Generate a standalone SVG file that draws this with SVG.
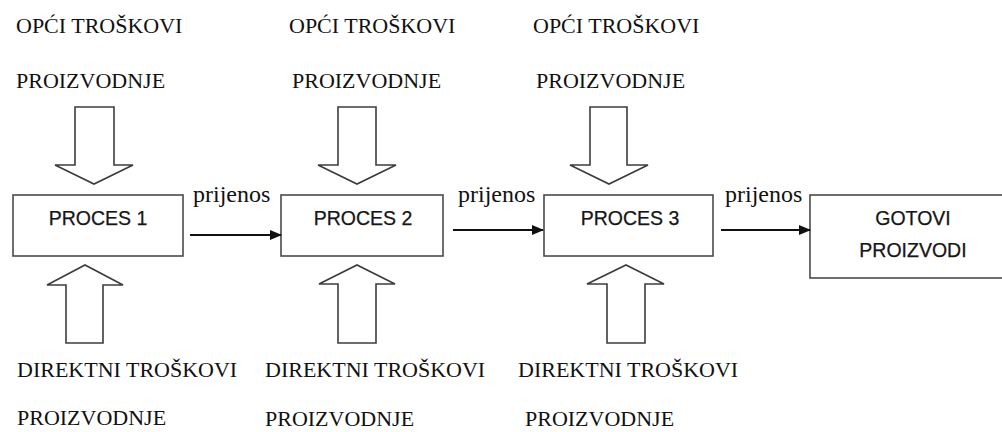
<svg xmlns="http://www.w3.org/2000/svg" width="1002" height="432" viewBox="0 0 1002 432">
<defs>
<style>
.serif{font-family:"Liberation Serif","Times New Roman",serif;font-size:22px;fill:#111}
.lbl{font-family:"Liberation Serif","Times New Roman",serif;font-size:24px;fill:#111}
.sans{font-family:"Liberation Sans",Arial,sans-serif;font-size:19.5px;fill:#161616;text-anchor:middle;stroke:#161616;stroke-width:0.25}
.box{fill:#fff;stroke:#4a4a4a;stroke-width:1.6}
.big{fill:#fff;stroke:#3c3c3c;stroke-width:1.6;stroke-linejoin:miter}
.conn{stroke:#111;stroke-width:2;fill:none}
</style>
<marker id="ah" markerWidth="12" markerHeight="12" refX="11" refY="6" orient="auto" markerUnits="userSpaceOnUse" viewBox="0 0 12 12">
<path d="M0,1 L12,6 L0,11 Z" fill="#111"/>
</marker>
</defs>
<rect width="1002" height="432" fill="#fff"/>

<g id="top-labels">
<text class="serif" x="16" y="33">OPĆI TROŠKOVI</text>
<text class="serif" x="16" y="88">PROIZVODNJE</text>
<text class="serif" x="289" y="33">OPĆI TROŠKOVI</text>
<text class="serif" x="292" y="88">PROIZVODNJE</text>
<text class="serif" x="533" y="33">OPĆI TROŠKOVI</text>
<text class="serif" x="536" y="88">PROIZVODNJE</text>
</g>

<g id="down-arrows">
<path class="big" d="M75,107 L114,107 L114,165 L133,165 L94,184 L55,165 L75,165 Z"/>
<path class="big" d="M338,107 L376,107 L376,165 L396,165 L357,184 L318,165 L338,165 Z"/>
<path class="big" d="M590,107 L627,107 L627,165 L648,165 L609,184 L570,165 L590,165 Z"/>
</g>

<g id="proces1">
<rect class="box" x="13" y="195" width="170" height="61"/>
<text class="sans" x="98" y="225">PROCES 1</text>
</g>
<g id="proces2">
<rect class="box" x="281" y="195" width="162" height="61"/>
<text class="sans" x="363" y="225">PROCES 2</text>
</g>
<g id="proces3">
<rect class="box" x="544" y="195" width="169" height="61"/>
<text class="sans" x="630" y="225">PROCES 3</text>
</g>
<g id="gotovi">
<rect class="box" x="810" y="195" width="210" height="83"/>
<text class="sans" x="913" y="225">GOTOVI</text>
<text class="sans" x="913" y="257">PROIZVODI</text>
</g>

<g id="connectors">
<line class="conn" x1="190" y1="235" x2="281" y2="235" marker-end="url(#ah)"/>
<line class="conn" x1="453" y1="230" x2="543" y2="230" marker-end="url(#ah)"/>
<line class="conn" x1="721" y1="230" x2="810" y2="230" marker-end="url(#ah)"/>
<text class="lbl" x="193" y="202">prijenos</text>
<text class="lbl" x="458" y="202">prijenos</text>
<text class="lbl" x="725" y="202">prijenos</text>
</g>

<g id="up-arrows">
<path class="big" d="M66,343 L103,343 L103,285 L123,285 L85,265 L47,285 L66,285 Z"/>
<path class="big" d="M338,343 L376,343 L376,284 L395,284 L357,265 L319,284 L338,284 Z"/>
<path class="big" d="M607,343 L645,343 L645,284 L664,284 L626,265 L587,284 L607,284 Z"/>
</g>

<g id="bottom-labels">
<text class="serif" x="17" y="377">DIREKTNI TROŠKOVI</text>
<text class="serif" x="17" y="425">PROIZVODNJE</text>
<text class="serif" x="265" y="377">DIREKTNI TROŠKOVI</text>
<text class="serif" x="265" y="426">PROIZVODNJE</text>
<text class="serif" x="518" y="377">DIREKTNI TROŠKOVI</text>
<text class="serif" x="525" y="426">PROIZVODNJE</text>
</g>
</svg>
